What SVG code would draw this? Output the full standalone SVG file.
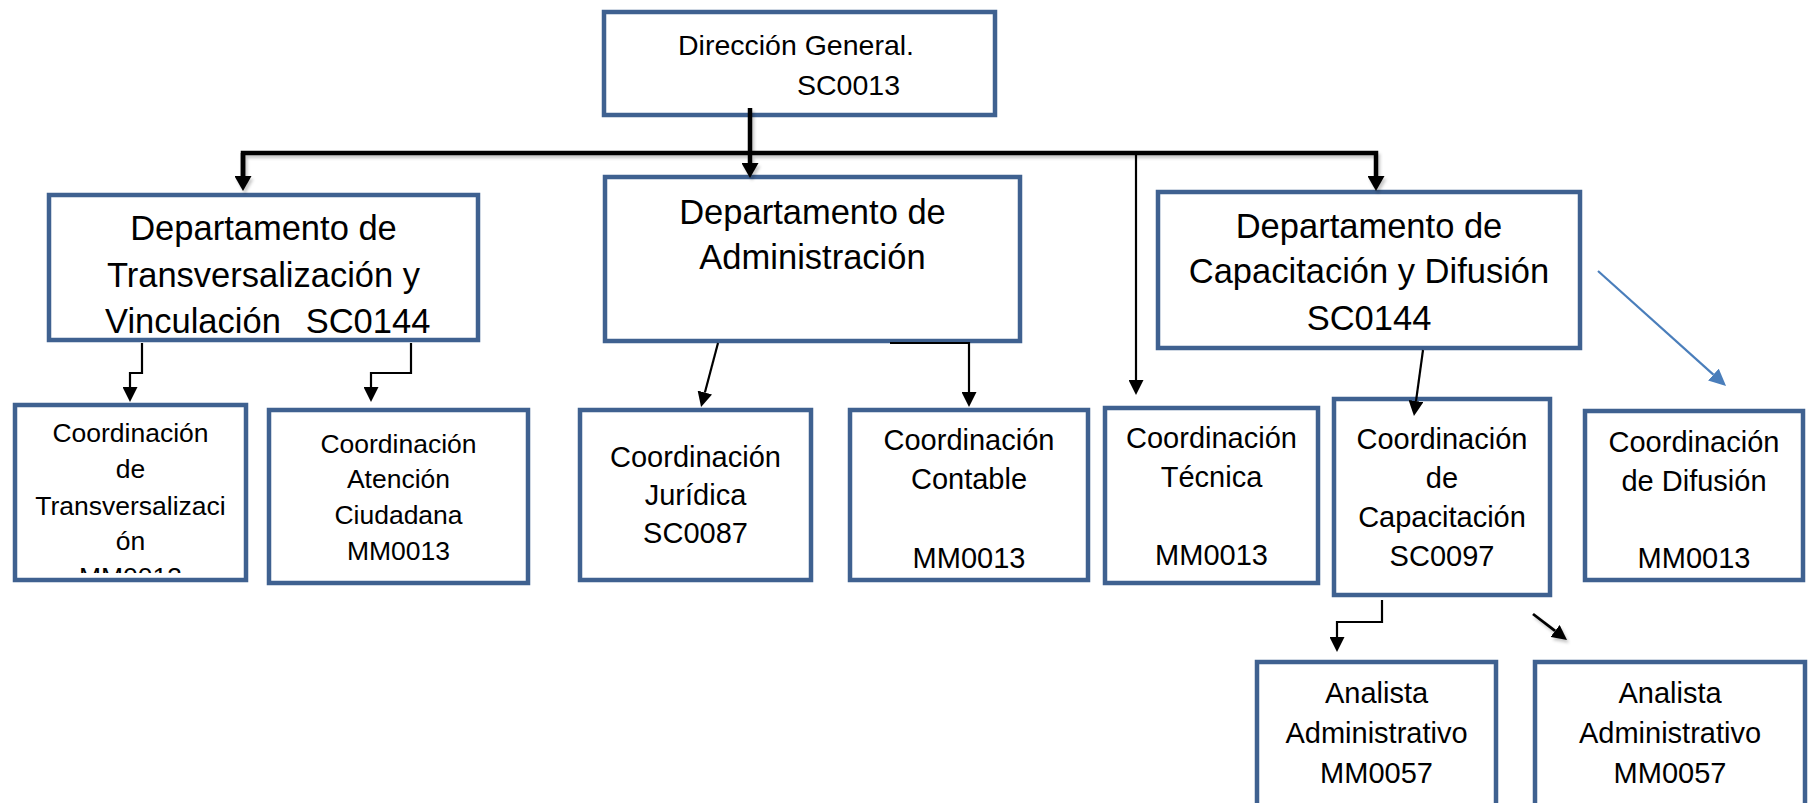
<svg xmlns="http://www.w3.org/2000/svg" width="1808" height="803" viewBox="0 0 1808 803">
<style>
.box{fill:#fff;stroke:#3F6190;stroke-width:4.5}
.t{font-family:"Liberation Sans",Arial,sans-serif;fill:#000;text-anchor:middle}
.d{font-size:34.5px}
.c{font-size:29px}
.s{font-size:26.5px}
.g{font-size:28.5px;text-anchor:start}
.k{fill:none;stroke:#000;stroke-width:4.5}
.n{fill:none;stroke:#000;stroke-width:2.2}
.b{fill:none;stroke:#4A7EBB;stroke-width:2.2}
</style>
<defs>
<marker id="ak" viewBox="0 0 15 17" refX="0" refY="8.5" markerWidth="15" markerHeight="17" orient="auto" markerUnits="userSpaceOnUse"><path d="M0,0 L15,8.5 L0,17 z" fill="#000"/></marker>
<marker id="an" viewBox="0 0 15 15" refX="0" refY="7.5" markerWidth="15" markerHeight="15" orient="auto" markerUnits="userSpaceOnUse"><path d="M0,0 L15,7.5 L0,15 z" fill="#000"/></marker>
<marker id="ab" viewBox="0 0 17 16" refX="0" refY="8" markerWidth="17" markerHeight="16" orient="auto" markerUnits="userSpaceOnUse"><path d="M0,0 L17,8 L0,16 z" fill="#4A7EBB"/></marker>
<filter id="sh" filterUnits="userSpaceOnUse" x="0" y="0" width="1808" height="803"><feDropShadow dx="2" dy="3" stdDeviation="1.5" flood-color="#000" flood-opacity="0.22"/></filter>
<clipPath id="clip1"><rect x="15" y="405" width="231" height="168"/></clipPath>
</defs>

<g id="n-direccion">
<rect class="box" x="604" y="12" width="391" height="103"/>
<text class="t g" x="678" y="55">Dirección General.</text>
<text class="t g" x="797" y="95">SC0013</text>
</g>

<g id="n-dep-transversalizacion">
<rect class="box" x="49" y="195" width="429" height="145"/>
<text class="t d" x="263.5" y="240">Departamento de</text>
<text class="t d" x="263.5" y="287">Transversalización y</text>
<text class="t d"><tspan x="105" y="333" style="text-anchor:start">Vinculación</tspan><tspan x="368" y="333">SC0144</tspan></text>
</g>

<g id="n-dep-administracion">
<rect class="box" x="605" y="177" width="415" height="164"/>
<text class="t d" x="812.5" y="224">Departamento de</text>
<text class="t d" x="812.5" y="269">Administración</text>
</g>

<g id="n-dep-capacitacion">
<rect class="box" x="1158" y="192" width="422" height="156"/>
<text class="t d" x="1369" y="238">Departamento de</text>
<text class="t d" x="1369" y="283">Capacitación y Difusión</text>
<text class="t d" x="1369" y="330">SC0144</text>
</g>

<g id="n-coord-transversalizacion">
<rect class="box" x="15" y="405" width="231" height="175"/>
<g clip-path="url(#clip1)">
<text class="t s" x="130.5" y="442">Coordinación</text>
<text class="t s" x="130.5" y="478">de</text>
<text class="t s" x="130.5" y="515">Transversalizaci</text>
<text class="t s" x="130.5" y="550">ón</text>
<text class="t s" x="130.5" y="586">MM0013</text>
</g>
</g>

<g id="n-coord-atencion">
<rect class="box" x="269" y="410" width="259" height="173"/>
<text class="t s" x="398.5" y="453">Coordinación</text>
<text class="t s" x="398.5" y="488">Atención</text>
<text class="t s" x="398.5" y="524">Ciudadana</text>
<text class="t s" x="398.5" y="560">MM0013</text>
</g>

<g id="n-coord-juridica">
<rect class="box" x="580" y="410" width="231" height="170"/>
<text class="t c" x="695.5" y="467">Coordinación</text>
<text class="t c" x="695.5" y="505">Jurídica</text>
<text class="t c" x="695.5" y="543">SC0087</text>
</g>

<g id="n-coord-contable">
<rect class="box" x="850" y="410" width="238" height="170"/>
<text class="t c" x="969" y="450">Coordinación</text>
<text class="t c" x="969" y="489">Contable</text>
<text class="t c" x="969" y="568">MM0013</text>
</g>

<g id="n-coord-tecnica">
<rect class="box" x="1105" y="408" width="213" height="175"/>
<text class="t c" x="1211.5" y="448">Coordinación</text>
<text class="t c" x="1211.5" y="487">Técnica</text>
<text class="t c" x="1211.5" y="565">MM0013</text>
</g>

<g id="n-coord-capacitacion">
<rect class="box" x="1334" y="399" width="216" height="196"/>
<text class="t c" x="1442" y="449">Coordinación</text>
<text class="t c" x="1442" y="488">de</text>
<text class="t c" x="1442" y="527">Capacitación</text>
<text class="t c" x="1442" y="566">SC0097</text>
</g>

<g id="n-coord-difusion">
<rect class="box" x="1585" y="411" width="218" height="169"/>
<text class="t c" x="1694" y="452">Coordinación</text>
<text class="t c" x="1694" y="491">de Difusión</text>
<text class="t c" x="1694" y="568">MM0013</text>
</g>

<g id="n-analista-1">
<rect class="box" x="1257" y="662" width="239" height="160"/>
<text class="t c" x="1376.5" y="703">Analista</text>
<text class="t c" x="1376.5" y="743">Administrativo</text>
<text class="t c" x="1376.5" y="783">MM0057</text>
</g>

<g id="n-analista-2">
<rect class="box" x="1535" y="662" width="270" height="160"/>
<text class="t c" x="1670" y="703">Analista</text>
<text class="t c" x="1670" y="743">Administrativo</text>
<text class="t c" x="1670" y="783">MM0057</text>
</g>

<g id="connectors">
<g filter="url(#sh)">
<path class="k" d="M750,108 V163" marker-end="url(#ak)"/>
<path class="k" d="M243,176 V153 H1376 V176" marker-end="url(#ak)"/>
<path class="k" d="M243,153 V176" marker-end="url(#ak)"/>
</g>
<path class="n" d="M1136,153 V380" marker-end="url(#an)"/>
<path class="n" d="M142,343 V373 H130 V387" marker-end="url(#an)"/>
<path class="n" d="M411,343 V373 H371 V387" marker-end="url(#an)"/>
<path class="n" d="M718,343 L704.9,392.5" marker-end="url(#an)"/>
<path class="n" d="M890,343 H969 V392" marker-end="url(#an)"/>
<path class="n" d="M1423,350 L1416,401.1" marker-end="url(#an)"/>
<path class="b" d="M1598,271 L1713.4,374.6" marker-end="url(#ab)"/>
<path class="n" d="M1382,600 V622 H1337 V637" marker-end="url(#an)"/>
<path class="n" d="M1533,614 L1555.1,630.9" marker-end="url(#an)" filter="url(#sh)" style="stroke-width:2.8"/>
</g>
</svg>
